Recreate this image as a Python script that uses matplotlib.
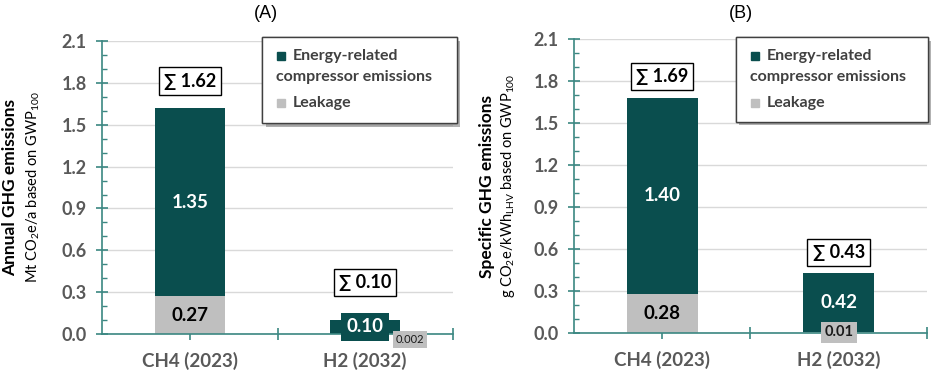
import numpy as np
import matplotlib.pyplot as plt
import matplotlib.patheffects as pe
from matplotlib.patches import Rectangle
from matplotlib.ticker import MultipleLocator
from matplotlib.transforms import offset_copy

# values (stacked: leakage at the bottom)
categories = ['CH4 (2023)', 'H2 (2032)']
energy_a = [1.35, 0.10]
leak_a = [0.27, 0.002]
total_a = [1.62, 0.10]
energy_b = [1.40, 0.42]
leak_b = [0.28, 0.01]
total_b = [1.69, 0.43]
yticks = [0.0, 0.3, 0.6, 0.9, 1.2, 1.5, 1.8, 2.1]

TEAL = '#0a4e4e'
GREY = '#bfbfbf'
AXC = '#3b8782'
TXT = '#595959'

plt.rcParams['font.family'] = ['Lato', 'DejaVu Sans']
plt.rcParams['mathtext.fontset'] = 'custom'
plt.rcParams['mathtext.rm'] = 'Lato'
plt.rcParams['mathtext.it'] = 'Lato:italic'
plt.rcParams['mathtext.bf'] = 'Lato:bold'

fig = plt.figure(figsize=(9.41, 3.73), dpi=100)
ax_a = fig.add_axes([0.1084, 0.1046, 0.373, 0.785])
ax_b = fig.add_axes([0.610, 0.107, 0.375, 0.788])


def fmt(v):
    return f'{v:.2f}' if v >= 0.01 else f'{v:.3f}'


def legend_box(ax, x0, y1, w_pt, h_pt):
    # Excel style legend: second line of the first entry wraps under the marker
    wpx = ax.get_position().width * fig.get_figwidth() * 72
    hpx = ax.get_position().height * fig.get_figheight() * 72
    box = Rectangle((x0, y1 - h_pt / hpx), w_pt / wpx, h_pt / hpx, transform=ax.transAxes,
                    fc='white', ec='#404040', lw=1, zorder=5, clip_on=False,
                    path_effects=[pe.withSimplePatchShadow(offset=(2.5, -2.5), shadow_rgbFace='#808080', alpha=0.6),
                                  pe.Normal()])
    ax.add_patch(box)
    rows = [(TEAL, 'Energy-related', 13.5), (None, 'compressor emissions', 28.5), (GREY, 'Leakage', 47.5)]
    for col, txt, dy in rows:
        tx = 10
        if col is not None:
            ax.plot([x0], [y1], marker='s', ms=6.2, color=col, clip_on=False, zorder=6,
                    transform=offset_copy(ax.transAxes, fig, x=13.5, y=-dy, units='points'))
            tx = 22
        ax.annotate(txt, xy=(x0, y1), xycoords='axes fraction', xytext=(tx, -dy),
                    textcoords='offset points', ha='left', va='center', fontsize=11.5,
                    fontweight='bold', color='#404040', zorder=6, annotation_clip=False)


def panel(ax, energy, leak, total, title, title_x, ylab, yunit, sum_off, small_leak, leg):
    x = np.arange(len(categories))
    ax.bar(x, leak, width=0.4, color=GREY, zorder=2)
    ax.bar(x, energy, width=0.4, bottom=leak, color=TEAL, zorder=2)

    ax.set_xlim(-0.5, 1.5)
    ax.set_ylim(0, 2.1)
    for s in ['top', 'right']:
        ax.spines[s].set_visible(False)
    for s in ['left', 'bottom']:
        ax.spines[s].set_color(AXC)
        ax.spines[s].set_linewidth(1.2)
    ax.yaxis.grid(True, color='#d9d9d9', lw=1)
    ax.set_axisbelow(True)

    ax.set_yticks(yticks, [f'{v:.1f}' for v in yticks], fontweight='bold')
    ax.yaxis.set_minor_locator(MultipleLocator(0.1))
    ax.tick_params(axis='y', which='major', direction='inout', length=8, color=AXC, width=1.2,
                   labelsize=13, labelcolor=TXT, pad=7)
    ax.tick_params(axis='y', which='minor', direction='in', length=3.5, color=AXC, width=1)
    ax.set_xticks(x, categories, fontweight='bold')
    ax.set_xticks([0.5, 1.5], minor=True)
    ax.tick_params(axis='x', which='major', direction='out', length=4, color=AXC, width=1.2,
                   labelsize=13.5, labelcolor=TXT, pad=9)
    ax.tick_params(axis='x', which='minor', direction='inout', length=9, color=AXC, width=1.2)

    for i in range(len(categories)):
        # energy-related segment label
        ymid = leak[i] + energy[i] / 2
        if energy[i] > 0.2:
            ax.text(x[i], ymid, fmt(energy[i]), ha='center', va='center', color='white',
                    fontsize=13.5, fontweight='bold', zorder=4)
        else:
            ax.text(x[i], ymid, fmt(energy[i]), ha='center', va='center', color='white',
                    fontsize=13.5, fontweight='bold', zorder=4,
                    bbox=dict(boxstyle='square,pad=0.3', fc=TEAL, ec='none'))
        # leakage segment label
        if leak[i] > 0.1:
            ax.text(x[i], leak[i] / 2, fmt(leak[i]), ha='center', va='center', color='black',
                    fontsize=13.5, fontweight='bold', zorder=4)
        else:
            dx, dy, fs, fw = small_leak
            ax.annotate(fmt(leak[i]), xy=(x[i], leak[i] / 2), xytext=(dx, dy), textcoords='offset points',
                        ha='center', va='center', color='#1a1a1a', fontsize=fs, fontweight=fw, zorder=4,
                        annotation_clip=False,
                        bbox=dict(boxstyle='square,pad=0.25', fc=GREY, ec='none'))
        # total
        ax.annotate(f'\u2211 {total[i]:.2f}', xy=(x[i], total[i]), xytext=(0, sum_off[i]),
                    textcoords='offset points', ha='center', va='center', fontsize=13,
                    fontweight='bold', color='black', zorder=4,
                    bbox=dict(boxstyle='square,pad=0.28', fc='white', ec='black', lw=1))

    ax.annotate(ylab, xy=(0, 0.5), xycoords='axes fraction', xytext=(sum_off[2], 0),
                textcoords='offset points', rotation=90, ha='center', va='center',
                fontsize=12.5, fontweight='bold', color='black')
    ax.annotate(yunit, xy=(0, 0.5), xycoords='axes fraction', xytext=(sum_off[3], 0),
                textcoords='offset points', rotation=90, ha='center', va='center',
                fontsize=10.5, color='black')
    fig.text(title_x, 0.965, title, ha='center', va='center', fontsize=13, family='Liberation Sans')
    legend_box(ax, *leg)


panel(ax_a, energy_a, leak_a, total_a, '(A)', 266 / 941, 'Annual GHG emissions',
      r'Mt CO$_2$e/a based on GWP$_{100}$', [19.5, 27, -66, -49.5], (32, -4, 8, 'normal'),
      (0.456, 1.014, 140, 62))
panel(ax_b, energy_b, leak_b, total_b, '(B)', 741 / 941, 'Specific GHG emissions',
      r'g CO$_2$e/kWh$_\mathregular{LHV}$ based on GWP$_{100}$', [14.5, 14.5, -63, -47.5],
      (0, 0, 10.5, 'bold'), (0.459, 1.007, 138, 61))

fig.savefig('out.png', dpi=100)
